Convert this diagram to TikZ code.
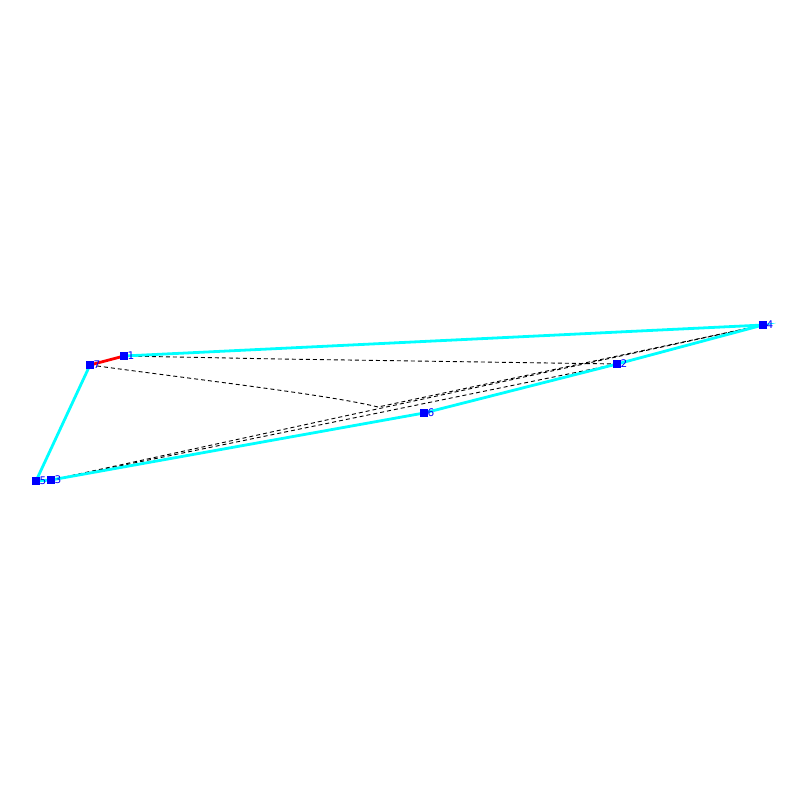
\documentclass[tikz,border=0pt]{standalone}
\usepackage{fontspec}
\setmainfont{DejaVu Sans}
\begin{document}
\begin{tikzpicture}[x=1pt,y=-1pt,
  vtx/.style={fill={rgb,255:red,0;green,0;blue,255}, inner sep=0pt, minimum size=7.5pt},
  lbl/.style={text={rgb,255:red,0;green,0;blue,255}, font=\fontsize{10.5}{10.5}\selectfont, inner sep=0pt, anchor=west, xshift=3.5pt},
  tree/.style={draw={rgb,255:red,0;green,255;blue,255}, line width=2.8pt},
  redge/.style={draw={rgb,255:red,255;green,0;blue,0}, line width=2.8pt},
  dashedge/.style={draw=black, dash pattern=on 4pt off 3pt, line width=0.9pt}]
\useasboundingbox (0,0) rectangle (800,800);
\fill[white] (0,0) rectangle (800,800);
\coordinate (p1) at (124,356);
\coordinate (p7) at (90,365);
\coordinate (p5) at (36,481);
\coordinate (p3) at (51,480);
\coordinate (p6) at (424,413);
\coordinate (p2) at (617,364);
\coordinate (p4) at (763,325);
\coordinate (bend) at (378,407);
% dashed edges
\draw[dashedge] (p1) -- (280,359) -- (p2);
\draw[dashedge] (p7) .. controls (200,380) and (330,395) .. (bend) -- (p4);
\draw[dashedge] (p3) -- (p4);
\draw[dashedge] (p3) -- (p2);
\draw[dashedge] (p3) -- (p6);
% tree edges
\draw[tree] (p1) -- (p4) -- (p2) -- (p6) -- (p3) -- (p5) -- (p7);
\draw[redge] (p7) -- (p1);
% vertices
\node[vtx] (n1) at (p1) {};
\node[vtx] (n7) at (p7) {};
\node[vtx] (n5) at (p5) {};
\node[vtx] (n3) at (p3) {};
\node[vtx] (n6) at (p6) {};
\node[vtx] (n2) at (p2) {};
\node[vtx] (n4) at (p4) {};
\node[lbl] at (p1) {1};
\node[lbl] at (p7) {7};
\node[lbl] at (p5) {5};
\node[lbl] at (p3) {3};
\node[lbl] at (p6) {6};
\node[lbl] at (p2) {2};
\node[lbl] at (p4) {4};
\end{tikzpicture}
\end{document}
